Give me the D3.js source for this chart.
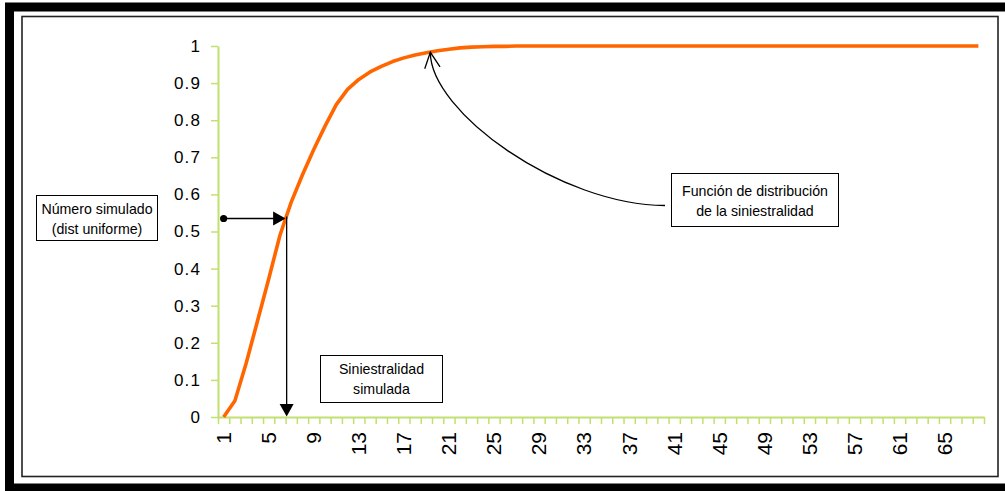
<!DOCTYPE html>
<html>
<head>
<meta charset="utf-8">
<script src="https://cdn.jsdelivr.net/npm/d3@7"></script>
<style>
  html, body { margin: 0; padding: 0; background: #ffffff; }
  svg { display: block; font-family: "Liberation Sans", Arial, sans-serif; }
</style>
</head>
<body>
<svg id="chart" width="1005" height="491"></svg>
<script>
// Simulated claims: cumulative distribution function (Excel-style line chart)
const categories = [
  1, 2, 3, 4, 5, 6, 7, 8, 9, 10, 11, 12, 13, 14, 15, 16, 17,
  18, 19, 20, 21, 22, 23, 24, 25, 26, 27, 28, 29, 30, 31, 32, 33, 34,
  35, 36, 37, 38, 39, 40, 41, 42, 43, 44, 45, 46, 47, 48, 49, 50, 51,
  52, 53, 54, 55, 56, 57, 58, 59, 60, 61, 62, 63, 64, 65, 66, 67, 68
];
const cdfValues = [
  0, 0.044, 0.145, 0.258, 0.372, 0.49, 0.579, 0.653, 0.721, 0.784, 0.842, 0.883, 0.91, 0.93, 0.945, 0.958, 0.968,
  0.976, 0.982, 0.987, 0.991, 0.995, 0.997, 0.998, 0.999, 0.999, 1, 1, 1, 1, 1, 1, 1, 1,
  1, 1, 1, 1, 1, 1, 1, 1, 1, 1, 1, 1, 1, 1, 1, 1, 1,
  1, 1, 1, 1, 1, 1, 1, 1, 1, 1, 1, 1, 1, 1, 1, 1, 1
];
const xTickLabels = [1, 5, 9, 13, 17, 21, 25, 29, 33, 37, 41, 45, 49, 53, 57, 61, 65];
const yTickValues = [0, 0.1, 0.2, 0.3, 0.4, 0.5, 0.6, 0.7, 0.8, 0.9, 1];

// uniform random number used for the inverse-transform illustration
const simulatedU = 0.535;

const svg = d3.select("#chart");
const axisColor = "#c2e070";
const lineColor = "#ff6600";

// frames
svg.append("rect").attr("x", 0).attr("y", 0).attr("width", 1005).attr("height", 491).attr("fill", "#ffffff");
svg.append("rect")
  .attr("x", 9.5).attr("y", 7).attr("width", 1010).attr("height", 481)
  .attr("fill", "none").attr("stroke", "#000").attr("stroke-width", 9);
svg.append("rect")
  .attr("x", 22).attr("y", 16.5).attr("width", 976).attr("height", 460)
  .attr("fill", "#fff").attr("stroke", "#222").attr("stroke-width", 1.6);

// scales
const plotLeft = 218, plotRight = 984, plotTop = 46, plotBottom = 417;
const xBand = d3.scaleBand().domain(categories).range([plotLeft, plotRight]).padding(0);
const xEdge = d3.scaleLinear().domain([0, categories.length]).range([plotLeft, plotRight]);
const y = d3.scaleLinear().domain([0, 1]).range([plotBottom, plotTop]);
const xc = c => xBand(c) + xBand.bandwidth() / 2;

// y axis
const yAxis = svg.append("g")
  .attr("transform", `translate(${plotLeft},0)`)
  .call(d3.axisLeft(y).tickValues(yTickValues).tickSize(7).tickSizeOuter(0).tickPadding(10)
    .tickFormat(d => d3.format("~g")(d)));
yAxis.select(".domain").attr("stroke", axisColor).attr("stroke-width", 2);
yAxis.selectAll(".tick line").attr("stroke", axisColor).attr("stroke-width", 1.5);
yAxis.selectAll(".tick text")
  .attr("fill", "#000").style("font-size", "17px").style("letter-spacing", "1.1px")
  .style("font-family", "'Liberation Sans', Arial, sans-serif");

// x axis: ticks on category boundaries
const xTicks = svg.append("g")
  .attr("transform", `translate(0,${plotBottom})`)
  .call(d3.axisBottom(xEdge).tickValues(d3.range(0, categories.length + 1)).tickSize(7)
    .tickSizeOuter(0).tickFormat(""));
xTicks.select(".domain").attr("stroke", axisColor).attr("stroke-width", 2);
xTicks.selectAll(".tick line").attr("stroke", axisColor).attr("stroke-width", 1.5);

// x axis labels (rotated), centred on categories
const xLabels = svg.append("g")
  .attr("transform", `translate(0,${plotBottom})`)
  .call(d3.axisBottom(xBand).tickValues(xTickLabels).tickSize(0));
xLabels.select(".domain").remove();
xLabels.selectAll(".tick text")
  .attr("transform", "rotate(-90)")
  .attr("x", -15).attr("y", 0).attr("dy", "0.35em")
  .attr("text-anchor", "end")
  .attr("fill", "#000")
  .style("font-size", "21px")
  .style("font-family", "'Liberation Sans', Arial, sans-serif");

// distribution curve
const line = d3.line()
  .x((d, i) => xc(categories[i]))
  .y(d => y(d));
svg.append("path")
  .datum(cdfValues)
  .attr("d", line)
  .attr("fill", "none")
  .attr("stroke", lineColor)
  .attr("stroke-width", 3.6)
  .attr("stroke-linejoin", "round");

// where the simulated number meets the curve
let hitX = xc(categories[0]);
for (let i = 0; i < cdfValues.length - 1; i++) {
  if (cdfValues[i] <= simulatedU && simulatedU <= cdfValues[i + 1]) {
    const f = (simulatedU - cdfValues[i]) / (cdfValues[i + 1] - cdfValues[i]);
    hitX = xc(categories[i]) + f * (xc(categories[i + 1]) - xc(categories[i]));
    break;
  }
}
const hitY = y(simulatedU);
const ann = svg.append("g").attr("stroke", "#000").attr("fill", "#000");

// horizontal arrow from the uniform number to the curve
ann.append("circle").attr("cx", xc(categories[0])).attr("cy", hitY).attr("r", 3.6).attr("stroke", "none");
ann.append("line")
  .attr("x1", xc(categories[0])).attr("y1", hitY).attr("x2", hitX - 10).attr("y2", hitY)
  .attr("stroke-width", 1.3);
ann.append("path")
  .attr("d", `M${hitX},${hitY} L${hitX - 12.5},${hitY - 7} L${hitX - 12.5},${hitY + 7} Z`)
  .attr("stroke", "none");

// vertical arrow down to the simulated claim
ann.append("line")
  .attr("x1", hitX + 1).attr("y1", hitY - 2).attr("x2", hitX + 1).attr("y2", plotBottom - 10)
  .attr("stroke-width", 1.3);
ann.append("path")
  .attr("d", `M${hitX + 1},${plotBottom - 0.5} L${hitX + 1 - 7},${plotBottom - 13} L${hitX + 1 + 7},${plotBottom - 13} Z`)
  .attr("stroke", "none");

// curved pointer to the distribution function
const tipX = xEdge(18.85), tipY = y(0.983);
ann.append("path")
  .attr("d", `M665,205.5 C560,205 ${tipX},112 ${tipX},${tipY}`)
  .attr("fill", "none").attr("stroke-width", 1.3);
ann.append("path")
  .attr("d", `M${tipX - 5.6},${tipY + 16.5} L${tipX},${tipY} L${tipX + 9.7},${tipY + 14.5}`)
  .attr("fill", "none").attr("stroke-width", 1.3);

// text boxes
function textBox(x0, y0, w, h, lines, baselines) {
  const g = svg.append("g");
  g.append("rect").attr("x", x0 + 0.5).attr("y", y0 + 0.5).attr("width", w).attr("height", h)
    .attr("fill", "#fff").attr("stroke", "#000").attr("stroke-width", 1);
  lines.forEach((t, i) => {
    g.append("text")
      .attr("x", x0 + w / 2 + 0.5).attr("y", baselines[i])
      .attr("text-anchor", "middle")
      .attr("fill", "#000")
      .style("font-size", "14.2px")
      .text(t);
  });
}
textBox(36, 195, 121, 45, ["Número simulado", "(dist uniforme)"], [213.5, 233.5]);
textBox(320, 355, 122, 47, ["Siniestralidad", "simulada"], [374, 394]);
textBox(671, 173, 167, 53, ["Función de distribución", "de la siniestralidad"], [195.5, 215.5]);
</script>
</body>
</html>
